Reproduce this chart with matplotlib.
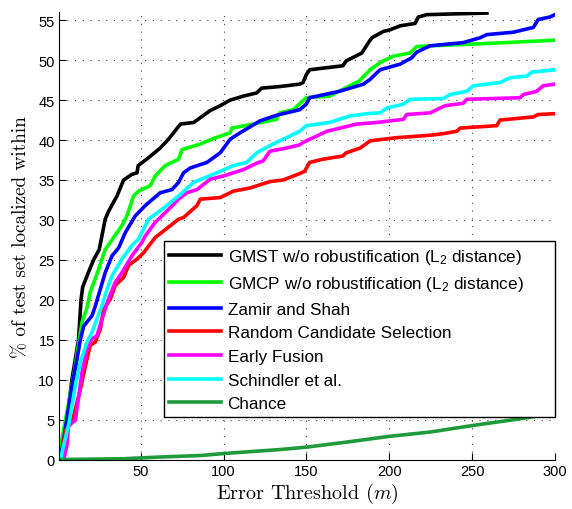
import numpy as np
import matplotlib
matplotlib.use('Agg')
import matplotlib.pyplot as plt

plt.rcParams['font.family'] = ['Liberation Sans', 'DejaVu Sans']
plt.rcParams['mathtext.fontset'] = 'custom'
plt.rcParams['mathtext.rm'] = 'Liberation Sans'
plt.rcParams['mathtext.it'] = 'Liberation Sans:italic'

# curves (x = error threshold in m, y = %)
gmst_x = [1.5, 5.5, 8.5, 12.5, 14, 15, 18.6, 21.6, 25, 28.6, 30.7, 35.7, 39.7, 44.7, 47.8, 48.5,
          54.8, 61.8, 66.8, 74, 82, 86, 92, 98, 104, 112, 120, 123, 134, 146, 148, 150, 152,
          172, 174, 183.5, 187.5, 189.5, 196.5, 200.5, 206.6, 215.6, 217.6, 222.7, 240, 259]
gmst_y = [0, 5, 10, 15, 20, 21.6, 23.5, 25, 26.3, 30.1, 31.1, 33, 35, 35.7, 35.9, 36.8,
          37.8, 39, 40.1, 42, 42.2, 42.8, 43.7, 44.3, 45, 45.5, 45.9, 46.5, 46.7, 47, 47.2, 48.2, 48.8,
          49.3, 49.9, 50.9, 52.2, 52.8, 53.6, 53.8, 54.3, 54.6, 55.4, 55.7, 55.8, 55.9]

gmcp_x = [1.5, 2.5, 6, 10, 14.6, 17.6, 19.6, 23.6, 28.6, 33.7, 38.7, 41.7, 45.7, 48.7, 55.8,
          58.8, 64.8, 72.9, 74.9, 86, 94, 104, 105, 118, 132, 134, 142, 150, 164, 182, 188.5,
          194.5, 202.5, 212.6, 216.6, 224.7, 260, 300]
gmcp_y = [0, 2.6, 6.5, 11, 17.2, 19, 21, 23.2, 26.3, 27.8, 29.3, 30.5, 33, 33.6, 34.3,
          35.5, 36.8, 37.6, 38.8, 39.5, 40.2, 40.9, 41.5, 42, 42.6, 43.4, 43.8, 45.3, 45.5, 47.4, 48.8,
          49.7, 50.5, 50.9, 51.7, 51.8, 52.1, 52.5]

zamir_x = [1.5, 4.5, 8.6, 11.6, 13.6, 15.6, 20.6, 22.6, 25.6, 28.6, 32.7, 36.7, 40.7, 46.7,
           52.8, 61.8, 68.9, 72.9, 75.9, 79.9, 90, 98, 104, 110, 118, 122, 132, 146, 150, 152,
           170, 184.5, 188.5, 194.5, 206.6, 213.6, 216.6, 224.7, 244.7, 254.8, 258.9, 274.9,
           287, 290, 297, 300]
zamir_y = [0, 3.8, 9.3, 12.6, 15, 16.7, 18, 19.2, 21.3, 23.4, 25.5, 26.5, 28.4, 30.5,
           31.8, 33.4, 33.8, 34.7, 35.9, 36.5, 37.2, 38.4, 40.1, 40.9, 41.9, 42.4, 43.1, 43.8, 44.5, 45.3,
           46.1, 47, 47.6, 48.8, 49.5, 50.3, 51, 51.8, 52.2, 52.8, 53.2, 53.5,
           54.1, 55.1, 55.4, 55.7]

random_x = [1.5, 2.5, 4.5, 8.6, 13.6, 17.6, 19.6, 22.6, 25.6, 27.6, 31.7, 34.7, 39.7, 42.7,
            47.8, 51.8, 58.8, 66.8, 72.9, 75.9, 84, 86, 98, 106, 116, 128, 136, 146, 149, 152,
            160, 172, 174, 182.5, 188.5, 204.6, 224.7, 232.7, 240.8, 242.8, 264.9, 266.9, 287,
            290, 300]
random_y = [0, 0.3, 3.6, 4.7, 8.8, 12.6, 14.3, 14.7, 16.3, 18.8, 20.1, 21.8, 22.8, 24.3,
            25.1, 25.9, 27.8, 29.1, 30.1, 30.3, 31.8, 32.6, 32.8, 33.6, 34, 34.8, 35, 35.8, 36.1, 37.2,
            37.6, 38, 38.4, 39, 39.9, 40.3, 40.6, 40.8, 41.1, 41.5, 41.8, 42.5, 42.9,
            43.2, 43.3]

fusion_x = [3.5, 5.5, 6.5, 10.6, 14.6, 17.6, 20.6, 23.6, 26.7, 30.6, 34.7, 38.7, 44.7, 50.8,
            52.8, 58.8, 66.8, 72.9, 77.9, 84, 92, 100, 112, 120, 124, 128, 138, 146, 148, 162.4,
            180.5, 192.5, 208.6, 210.6, 224.7, 228.7, 233.7, 244.7, 246.8, 278.9, 281, 289, 293,
            300]
fusion_y = [0, 1.75, 4.3, 4.9, 10.9, 13.8, 15.1, 15.5, 17.6, 20.1, 22.2, 23.4, 25.5, 27.2,
            28, 29.7, 31.3, 32.6, 33.4, 33.8, 35.1, 35.5, 36.3, 37.1, 37.4, 38.6, 39, 39.4, 39.7, 41.1,
            42, 42.2, 42.6, 43.2, 43.4, 43.8, 44.3, 44.6, 45.1, 45.3, 45.7, 46.1, 46.8,
            47]

schindler_x = [2, 2.5, 6.5, 10.6, 13.6, 17.6, 20.6, 23.6, 26.7, 29.7, 32.7, 38.7, 44.7, 48.7,
               54.8, 62.8, 72.9, 82, 96, 106, 114, 120, 128, 136, 146, 150, 164, 176, 186.5,
               194.5, 198.5, 208.6, 212.6, 232.7, 236.8, 246.8, 250.8, 266.9, 273, 283, 286, 300]
schindler_y = [0, 0.9, 4.3, 9.3, 12.2, 14.7, 15.9, 17.6, 19.3, 21.3, 23, 25.1, 26.8, 27.6,
               30.1, 31.3, 33, 34.7, 35.9, 36.8, 37.2, 38.4, 39.3, 40.1, 41.1, 41.8, 42.2, 43, 43.3,
               43.4, 44, 44.5, 45.1, 45.2, 45.7, 46.1, 46.8, 47.2, 47.8, 48, 48.5, 48.8]

chance_x = [1, 40, 60, 86, 100, 134, 150, 175, 200, 225, 250, 279, 300]
chance_y = [0, 0.1, 0.3, 0.5, 0.75, 1.25, 1.55, 2.2, 2.9, 3.45, 4.25, 5.1, 5.8]

labels = ['GMST w/o robustification (L$_2$ distance)',
          'GMCP w/o robustification (L$_2$ distance)',
          'Zamir and Shah', 'Random Candidate Selection', 'Early Fusion',
          'Schindler et al.', 'Chance']

fig = plt.figure(figsize=(5.72, 5.10), dpi=100)
ax = fig.add_axes([0.104, 0.097, 0.866, 0.877])

lw = 2.6
ax.plot(gmst_x, gmst_y, color='black', lw=lw, label=labels[0])
ax.plot(gmcp_x, gmcp_y, color='#00ff00', lw=lw, label=labels[1])
ax.plot(zamir_x, zamir_y, color='#0000ff', lw=lw, label=labels[2])
ax.plot(random_x, random_y, color='#ff0000', lw=lw, label=labels[3])
ax.plot(fusion_x, fusion_y, color='#ff00ff', lw=lw, label=labels[4])
ax.plot(schindler_x, schindler_y, color='#00ffff', lw=lw, label=labels[5])
ax.plot(chance_x, chance_y, color='#1f9a3a', lw=lw, label=labels[6])

ax.set_xlim(1, 300)
ax.set_ylim(0, 56)
ax.set_xticks([50, 100, 150, 200, 250, 300])
ax.set_yticks(np.arange(0, 56, 5))
ax.tick_params(direction='in', length=5, labelsize=10.5, top=False, right=False)
ax.grid(True, linestyle=(0, (1, 6)), color='0.25', linewidth=0.8)
ax.spines['top'].set_visible(False)
ax.spines['right'].set_visible(False)

ax.set_xlabel('Error Threshold ($m$)', family='cmr10', math_fontfamily='cm', fontsize=14.5,
              labelpad=2)
ax.set_ylabel('% of test set localized within', family='cmr10', fontsize=13.8, labelpad=6)

leg = ax.legend(loc='lower left', bbox_to_anchor=(0.21, 0.095, 0.79, 0.405), mode='expand',
                fontsize=12.3, handlelength=3.0, handletextpad=0.4, labelspacing=0.5,
                borderpad=0.35, fancybox=False, framealpha=1, edgecolor='black',
                borderaxespad=0)
leg.get_frame().set_linewidth(1.0)

fig.savefig('out.png', dpi=100)
